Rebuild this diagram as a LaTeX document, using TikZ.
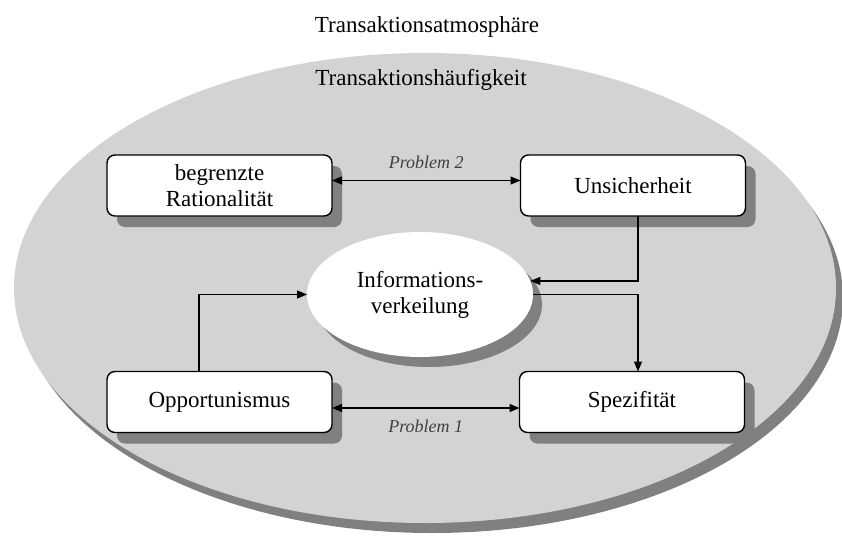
\documentclass[tikz,border=0pt]{standalone}
\usepackage{fontspec}
\setmainfont{Liberation Serif}
\usetikzlibrary{arrows.meta,shapes.geometric,shadows}

\definecolor{facegray}{RGB}{211,211,211}
\definecolor{shadegray}{RGB}{128,128,128}
\definecolor{labelgray}{RGB}{64,64,64}

\begin{document}
\begin{tikzpicture}[x=1pt,y=-1pt,
  mainfont/.style={font=\fontsize{23}{26}\selectfont},
  box/.style={mainfont, draw=black, line width=1.4pt, fill=white,
    rounded corners=8pt, minimum width=225pt, minimum height=61pt,
    align=center, inner sep=0pt, outer sep=0pt,
    drop shadow={shadow xshift=10pt, shadow yshift=-11pt, fill=shadegray, opacity=1}},
  centre/.style={mainfont, ellipse, fill=white, minimum width=226pt,
    minimum height=125pt, align=center, inner sep=0pt, outer sep=0pt,
    drop shadow={shadow xshift=9pt, shadow yshift=-10pt, fill=shadegray, opacity=1}},
  tip/.tip={Triangle[length=10pt,width=8pt]},
  link/.style={line width=1.3pt, -tip},
  both/.style={line width=1.3pt, tip-tip},
  prob/.style={font=\fontsize{18}{20}\selectfont\itshape, text=labelgray}
]
\useasboundingbox (0,0) rectangle (842,543);
\clip (0,0) rectangle (842,543);

% outer field with its shadow
\fill[shadegray] (432,298) ellipse [x radius=411, y radius=235];
\fill[facegray] (425,288) ellipse [x radius=411, y radius=235];

\node[mainfont] (atm) at (427,27) {Transaktionsatmosphäre};
\node[mainfont] (freq) at (421,80) {Transaktionshäufigkeit};

% the four factors and the centre
\node[box] (br) at (219.5,185.5) {begrenzte\\Rationalität};
\node[box] (un) at (633,185.5) {Unsicherheit};
\node[box] (op) at (219.5,402) {Opportunismus};
\node[box] (sp) at (632,402) {Spezifität};
\node[centre] (iv) at (420,294.5) {Informations-\\verkeilung};

% connectors
\draw[both] ([yshift=5pt]br.east) -- ([yshift=5pt]un.west)
  node[prob, midway, yshift=18pt] {Problem 2};
\draw[both] ([yshift=-6pt]op.east) -- ([yshift=-6pt]sp.west)
  node[prob, midway, yshift=-18pt] {Problem 1};
\draw[link] ([xshift=5pt]un.south) |- (iv.7);
\draw[link] (iv.east) -| ([xshift=6pt]sp.north);
\draw[link] ([xshift=-20.5pt]op.north) |- (iv.west);
\end{tikzpicture}
\end{document}
